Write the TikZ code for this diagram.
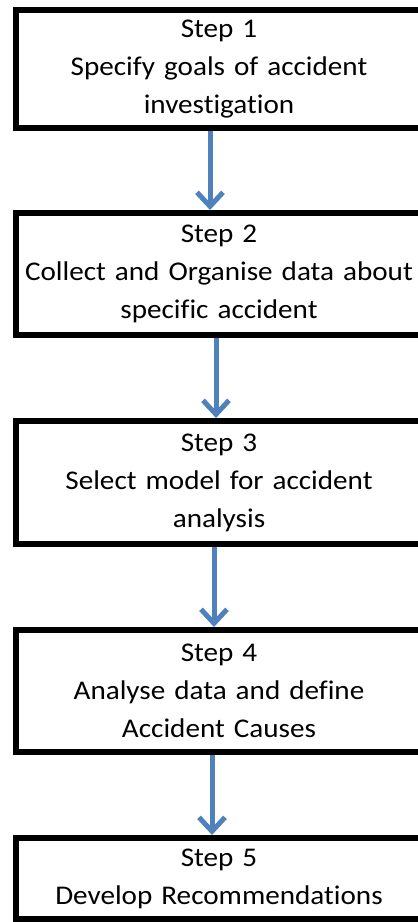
\documentclass[tikz,border=0pt]{standalone}
\usepackage{fontspec}
\setmainfont{Carlito}[FakeStretch=1.08, Ligatures=NoCommon]
\usetikzlibrary{arrows.meta}

\definecolor{arrowblue}{RGB}{79,129,189}

\tikzset{
  stepbox/.style={draw=black, line width=6pt, rectangle, align=center,
    text width=400pt, inner xsep=3pt, inner ysep=0pt,
    font=\fontsize{27}{38}\selectfont},
  steparrow/.style={draw=arrowblue, line width=5pt,
    -{Straight Barb[length=14pt,width=26pt]}}
}

\begin{document}
\begin{tikzpicture}[x=1pt, y=-1pt]

  \useasboundingbox (0,0) rectangle (418,922);
  \clip (0,0) rectangle (418,922);

  \def\xc{219};

  % the five steps
  \foreach \name/\yc/\h/\txt in {s1/69/118/{Step 1\\Specify goals of accident\\investigation},
      s2/274/122/{Step 2\\Collect and Organise data about\\specific accident},
      s3/482.5/123/{Step 3\\Select model for accident\\analysis},
      s4/691/122/{Step 4\\Analyse data and define\\Accident Causes},
      s5/878.5/81/{Step 5\\Develop Recommendations}} {
    \node[stepbox, minimum height=\h pt] (\name) at (\xc,\yc) {\txt};
  }

  % arrows between the steps
  \foreach \a/\b/\dx in {s1/s2/-9, s2/s3/-3, s3/s4/-5, s4/s5/-7} {
    \draw[steparrow] ([xshift=\dx pt]\a.south) -- ([xshift=\dx pt]\b.north);
  }

\end{tikzpicture}
\end{document}
